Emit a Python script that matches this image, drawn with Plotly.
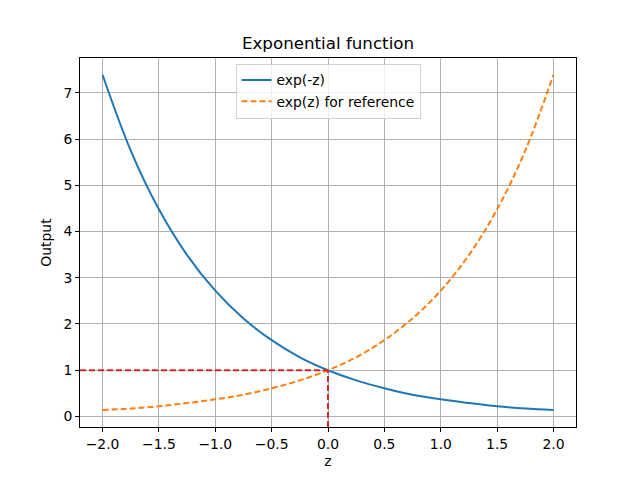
import plotly.graph_objects as go

z_vals = [-2.0, -1.75, -1.5, -1.25, -1.0, -0.75, -0.5, -0.25, 0.0,
          0.25, 0.5, 0.75, 1.0, 1.25, 1.5, 1.75, 2.0]
exp_neg = [7.39, 5.75, 4.48, 3.49, 2.72, 2.12, 1.65, 1.28, 1.0,
           0.78, 0.61, 0.47, 0.37, 0.29, 0.22, 0.17, 0.14]
exp_pos = [0.14, 0.17, 0.22, 0.29, 0.37, 0.47, 0.61, 0.78, 1.0,
           1.28, 1.65, 2.12, 2.72, 3.49, 4.48, 5.75, 7.39]

x_range = [-2.2, 2.2]
y_range = [-0.228, 7.752]
ref_x = 0.0
ref_y = 1.0

x_ticks = [-2.0, -1.5, -1.0, -0.5, 0.0, 0.5, 1.0, 1.5, 2.0]
x_tick_labels = ["\u22122.0", "\u22121.5", "\u22121.0", "\u22120.5", "0.0", "0.5", "1.0", "1.5", "2.0"]
y_ticks = [0, 1, 2, 3, 4, 5, 6, 7]

font = "DejaVu Sans"

fig = go.Figure()
fig.add_trace(go.Scatter(x=z_vals, y=exp_neg, mode="lines", name="exp(-z)",
                         line=dict(color="#1f77b4", width=2, shape="spline")))
fig.add_trace(go.Scatter(x=z_vals, y=exp_pos, mode="lines", name="exp(z) for reference",
                         line=dict(color="#ff7f0e", width=2, dash="6px,3px", shape="spline")))
fig.add_trace(go.Scatter(x=[x_range[0], ref_x], y=[ref_y, ref_y], mode="lines",
                         showlegend=False, line=dict(color="#d62728", width=2, dash="6px,3px")))
fig.add_trace(go.Scatter(x=[ref_x, ref_x], y=[y_range[0], ref_y], mode="lines",
                         showlegend=False, line=dict(color="#d62728", width=2, dash="6px,3px")))

axis_common = dict(showline=True, linecolor="black", linewidth=1, mirror=True,
                   ticks="outside", ticklen=4, tickcolor="black",
                   showgrid=True, gridcolor="#b0b0b0", gridwidth=1, zeroline=False,
                   tickfont=dict(family=font, size=13.9, color="black"))

fig.update_layout(
    width=640, height=480,
    margin=dict(l=80, r=64, t=58, b=53),
    paper_bgcolor="white", plot_bgcolor="white",
    font=dict(family=font, color="black"),
    title=dict(text="Exponential function", x=0.5, xanchor="center",
               xref="paper", y=1 - 43 / 480, yref="container", yanchor="middle",
               font=dict(family=font, size=16.7, color="black")),
    xaxis=dict(range=x_range, tickvals=x_ticks, ticktext=x_tick_labels,
               title=dict(text="z", font=dict(family=font, size=13.9), standoff=5),
               **axis_common),
    yaxis=dict(range=y_range, tickvals=y_ticks,
               title=dict(text="Output", font=dict(family=font, size=13.9), standoff=8),
               **axis_common),
    legend=dict(x=0.5, xanchor="center", y=0.985, yanchor="top",
                bgcolor="rgba(255,255,255,0.8)", bordercolor="#d0d0d0", borderwidth=1,
                font=dict(family=font, size=13.9, color="black"), tracegroupgap=0),
)

fig.write_html("out.html", config={"displayModeBar": False},
               post_script="document.body.style.margin='0';")
